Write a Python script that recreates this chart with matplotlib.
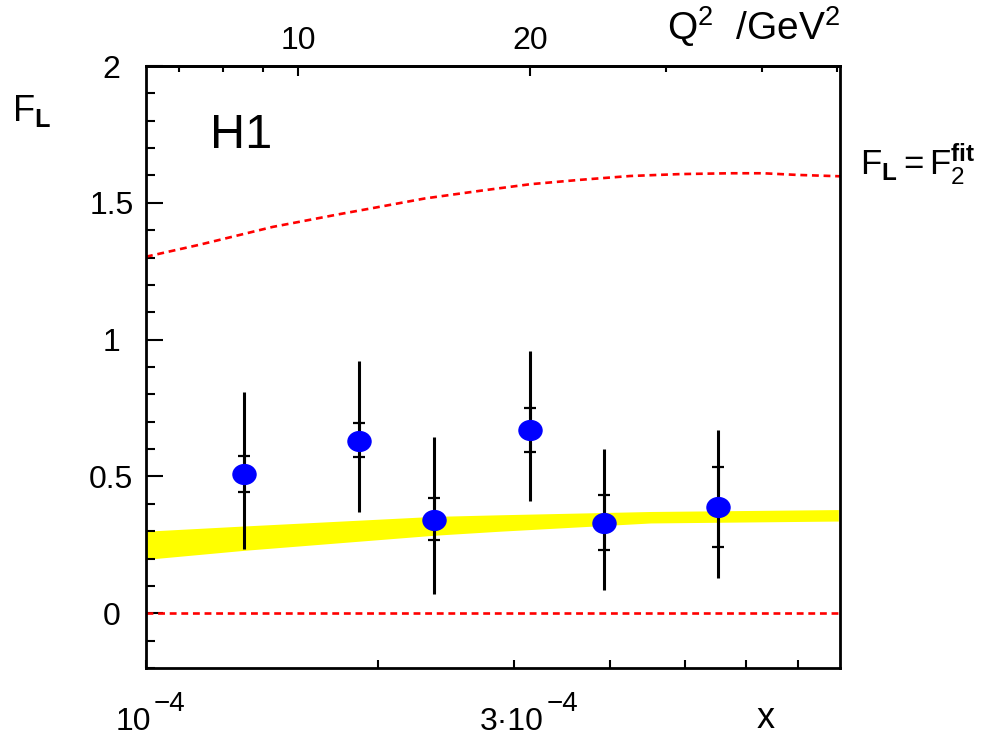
import numpy as np
import matplotlib

matplotlib.use("Agg")
import matplotlib.pyplot as plt
from matplotlib.path import Path
from matplotlib.transforms import blended_transform_factory
from matplotlib.ticker import FixedLocator, FixedFormatter, NullFormatter, MultipleLocator

plt.rcParams["font.family"] = ["Liberation Sans", "DejaVu Sans"]
plt.rcParams["mathtext.fontset"] = "custom"
plt.rcParams["mathtext.rm"] = "Liberation Sans"
plt.rcParams["mathtext.it"] = "Liberation Sans:italic"
plt.rcParams["mathtext.bf"] = "Liberation Sans:bold"
plt.rcParams["mathtext.sf"] = "Liberation Sans"

# H1 F_L measurement points (x, F_L) with stat (inner) and total (outer) error ends
x_data = [1.34e-4, 1.89e-4, 2.36e-4, 3.15e-4, 3.93e-4, 5.51e-4]
fl = [0.510, 0.631, 0.342, 0.670, 0.330, 0.388]
stat_hi = [0.573, 0.695, 0.420, 0.751, 0.431, 0.534]
stat_lo = [0.443, 0.570, 0.266, 0.591, 0.230, 0.242]
tot_hi = [0.808, 0.923, 0.644, 0.960, 0.601, 0.670]
tot_lo = [0.236, 0.370, 0.069, 0.412, 0.086, 0.130]

# QCD expectation band
x_band = [1.0e-4, 1.34e-4, 2.36e-4, 2.88e-4, 4.51e-4, 7.9e-4]
band_lo = [0.197, 0.230, 0.285, 0.300, 0.330, 0.337]
band_hi = [0.300, 0.319, 0.354, 0.360, 0.372, 0.379]

# limit F_L = F2 (fit)
x_f2 = [1.0e-4, 1.174e-4, 1.46e-4, 1.785e-4, 1.97e-4, 2.30e-4, 2.712e-4, 3.149e-4,
        3.655e-4, 4.244e-4, 4.927e-4, 5.72e-4, 6.313e-4, 6.987e-4, 7.94e-4]
f2_fit = [1.303, 1.347, 1.412, 1.459, 1.481, 1.516, 1.544, 1.568,
          1.584, 1.598, 1.605, 1.608, 1.608, 1.602, 1.597]

Q2_PER_X = 6.35e4
x_ticks = [1e-4, 3e-4]
x_mant = ["10", "3·10"]
x_exp = ["\u22124", "\u22124"]
x_minor = [2e-4, 4e-4, 5e-4, 6e-4, 7e-4]
q2_ticks = [10, 20]
q2_minor = [7, 8, 9, 30, 40, 50]
y_ticks = [0, 0.5, 1, 1.5, 2]
y_labels = ["0", "0.5", "1", "1.5", "2"]

RED = "#ff0000"
DASH = (0, (2.6, 1.8))

fig = plt.figure(figsize=(9.96, 7.4), dpi=100)
ax = fig.add_axes([146 / 996, 72 / 740, 694 / 996, 602 / 740])
ax.set_xscale("log")
ax.set_xlim(1e-4, 7.94e-4)
ax.set_ylim(-0.2, 2.0)

ax.fill_between(x_band, band_lo, band_hi, color="#ffff00", lw=0, zorder=1)
ax.plot(x_f2, f2_fit, color=RED, lw=1.9, ls=DASH, zorder=2)
ax.axhline(0, color=RED, lw=1.9, ls=DASH, zorder=2)

fl_a = np.array(fl)
ax.vlines(x_data, tot_lo, tot_hi, color="black", lw=2.2, zorder=3)
ax.errorbar(x_data, fl_a, yerr=[fl_a - np.array(stat_lo), np.array(stat_hi) - fl_a],
            fmt="none", ecolor="black", elinewidth=2.2, capsize=4, capthick=1.6, zorder=3)

circ = Path.unit_circle()
ellipse = Path(circ.vertices * [1.0, 0.86], circ.codes)
ax.plot(x_data, fl, ls="none", marker=ellipse, ms=16.6, color="#0000ff", mec="#0000ff", zorder=4)

for side in ["left", "right", "top", "bottom"]:
    ax.spines[side].set_linewidth(2.0)

# y axis
ax.yaxis.set_major_locator(FixedLocator(y_ticks))
ax.yaxis.set_major_formatter(FixedFormatter(y_labels))
ax.yaxis.set_minor_locator(MultipleLocator(0.1))
ax.tick_params(axis="y", which="major", direction="in", length=12, width=1.5, labelsize=23, pad=25)
ax.tick_params(axis="y", which="minor", direction="in", length=6.5, width=1.5)
for lab in ax.get_yticklabels():
    lab.set_horizontalalignment("center")

# x axis: ticks only, labels drawn as mantissa + raised exponent
ax.xaxis.set_major_locator(FixedLocator(x_ticks))
ax.xaxis.set_major_formatter(NullFormatter())
ax.xaxis.set_minor_locator(FixedLocator(x_minor))
ax.xaxis.set_minor_formatter(NullFormatter())
ax.tick_params(axis="x", which="both", direction="in", length=6, width=1.5)

trans = blended_transform_factory(ax.transData, ax.transAxes)
mant_dx = [5, 30]
for xt, mant, ex, dx in zip(x_ticks, x_mant, x_exp, mant_dx):
    ax.annotate(mant, xy=(xt, 0), xycoords=trans, xytext=(dx * 0.72, -45),
                textcoords="offset points", ha="right", va="baseline", fontsize=23)
    ax.annotate(ex, xy=(xt, 0), xycoords=trans, xytext=((dx + 3) * 0.72, -31),
                textcoords="offset points", ha="left", va="baseline", fontsize=20)

# Q2 axis on top
sec = ax.secondary_xaxis("top", functions=(lambda x: x * Q2_PER_X, lambda q: q / Q2_PER_X))
sec.xaxis.set_major_locator(FixedLocator(q2_ticks))
sec.xaxis.set_major_formatter(FixedFormatter([str(q) for q in q2_ticks]))
sec.xaxis.set_minor_locator(FixedLocator(q2_minor))
sec.xaxis.set_minor_formatter(NullFormatter())
sec.tick_params(which="major", direction="in", length=7, width=1.5, labelsize=23, pad=7)
sec.tick_params(which="minor", direction="in", length=4.5, width=1.5)
sec.spines["top"].set_linewidth(2.0)

ax.text(0.092, 0.864, "H1", transform=ax.transAxes, fontsize=35, va="baseline")

fig.text(12 / 996, 1 - 121 / 740, r"$\mathrm{F_{\mathbf{L}}}$", fontsize=26, va="baseline")
fig.text(860 / 996, 1 - 175 / 740, r"$\mathrm{F_{\mathbf{L}}=F_2^{\mathbf{fit}}}$",
         fontsize=25, va="baseline")
fig.text(840 / 996, 1 - 40 / 740, r"$\mathrm{Q^2\ \ /GeV^2}$", fontsize=28, ha="right", va="baseline")
fig.text(766 / 996, 1 - 728 / 740, "x", fontsize=26, ha="center", va="baseline")

fig.savefig("out.png", dpi=100)
